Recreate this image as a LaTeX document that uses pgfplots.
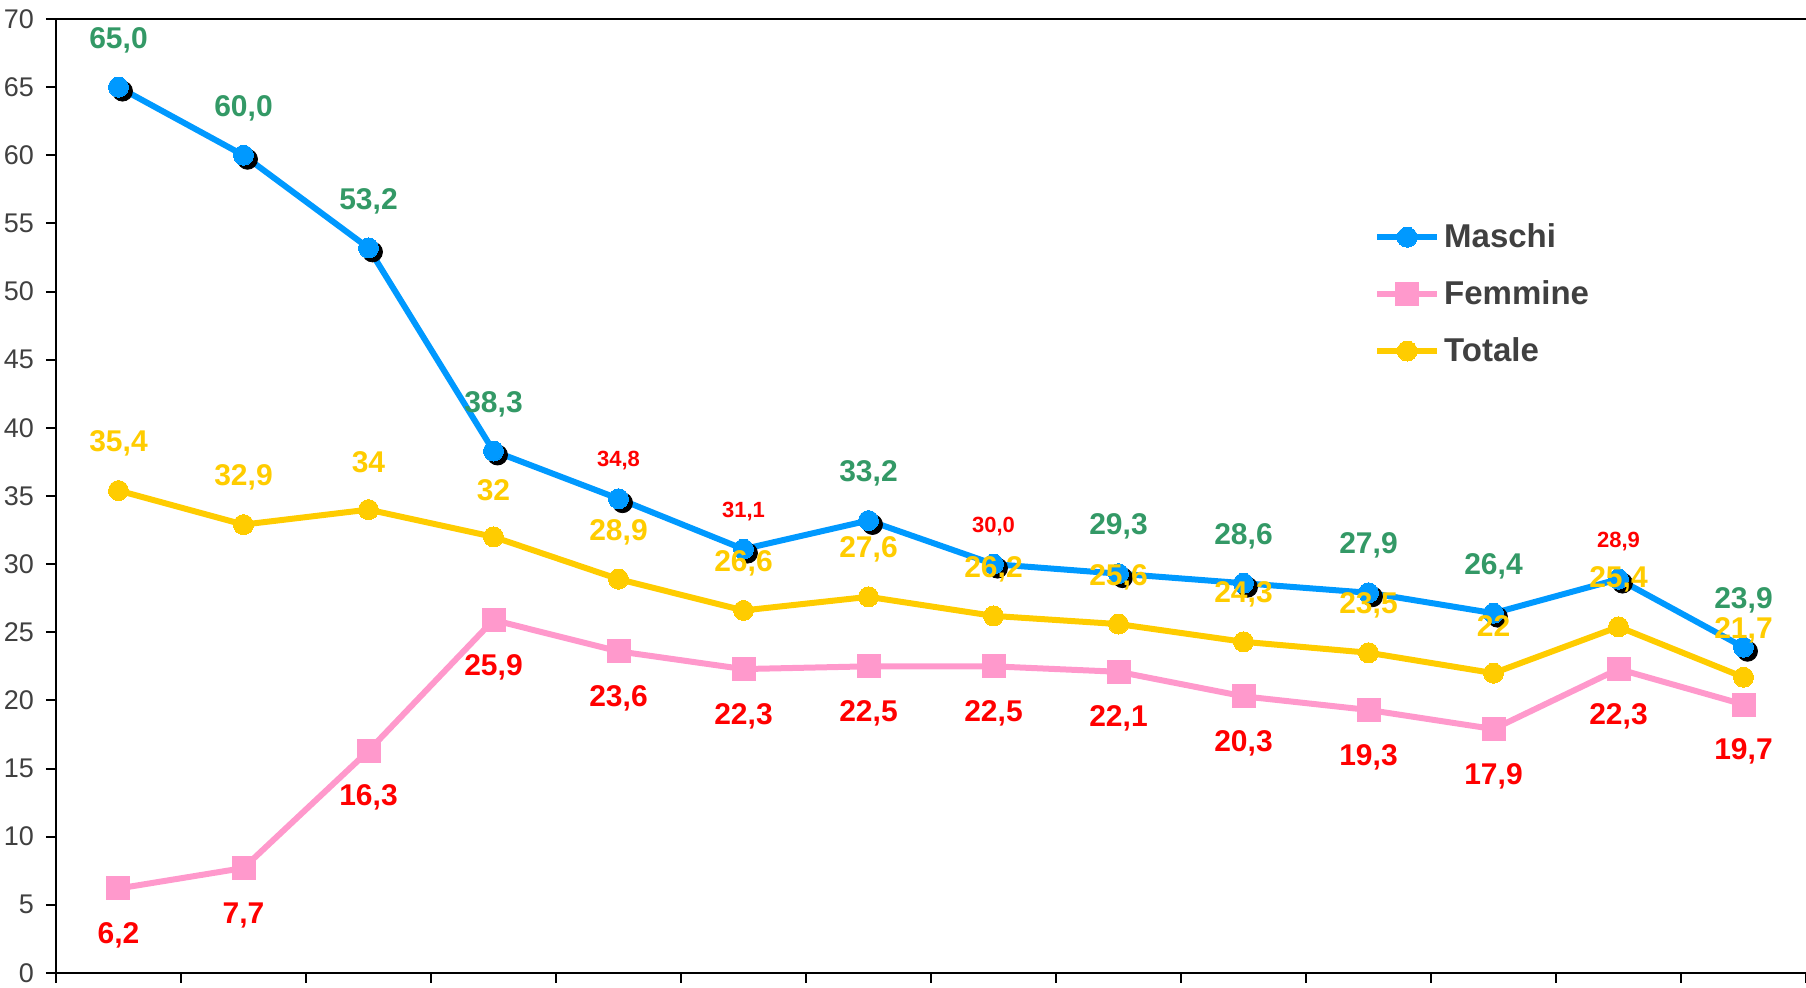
\documentclass[border=0pt]{standalone}
\usepackage{pgfplots}
\pgfplotsset{compat=1.18}
\usepackage{fontspec}
\setmainfont{Liberation Sans}
\definecolor{mblue}{RGB}{0,153,255}
\definecolor{fpink}{RGB}{255,153,204}
\definecolor{tyellow}{RGB}{255,204,0}
\definecolor{lgreen}{RGB}{51,153,102}
\definecolor{lred}{RGB}{255,0,0}
\definecolor{txtgray}{RGB}{64,64,64}
\begin{document}
\begin{tikzpicture}
\path[use as bounding box] (-28pt,-7.5pt) rectangle (875pt,486.5pt);
\begin{axis}[
  at={(0,0)}, anchor=south west,
  scale only axis,
  width=875pt, height=477pt,
  xmin=-0.5, xmax=13.5,
  ymin=0, ymax=70,
  axis x line=box, axis y line=left,
  axis line style={line width=1pt, -},
  xtick={-0.5,0.5,...,13.5}, xticklabels={},
  xtick pos=bottom,
  ytick={0,5,...,70},
  ytick pos=left,
  tick align=outside,
  major tick length=5pt,
  tick style={line width=1pt, black},
  yticklabel style={font=\fontsize{13.5}{15}\selectfont, text=txtgray, xshift=-2.5pt},
  /pgf/number format/assume math mode=true,
  clip=false,
  legend style={draw=none, fill=none, at={(0.753,0.79)}, anchor=north west,
    font=\fontsize{16.5}{20}\selectfont\bfseries, text=txtgray,
    row sep=11pt, inner sep=0pt},
  legend cell align=left,
  legend image code/.code={\draw[mark repeat=2,mark phase=2] plot coordinates {(0pt,0pt) (15pt,0pt) (30pt,0pt)};},
]
% shadow of Maschi markers
\addplot[forget plot, only marks, mark=*, mark size=5pt, black,
  mark options={xshift=2pt, yshift=-2pt}] table[x=x,y=m] {
x m
0 65.0
1 60.0
2 53.2
3 38.3
4 34.8
5 31.1
6 33.2
7 30.0
8 29.3
9 28.6
10 27.9
11 26.4
12 28.9
13 23.9
};
\addplot[mblue, line width=3pt, mark=*, mark size=5pt, mark options={fill=mblue, draw=mblue, line width=0pt}] table[x=x,y=m] {
x m
0 65.0
1 60.0
2 53.2
3 38.3
4 34.8
5 31.1
6 33.2
7 30.0
8 29.3
9 28.6
10 27.9
11 26.4
12 28.9
13 23.9
};
\addlegendentry{Maschi}
\addplot[fpink, line width=3pt, mark=square*, mark size=5.75pt, mark options={fill=fpink, draw=fpink, line width=0pt}] table[x=x,y=f] {
x f
0 6.2
1 7.7
2 16.3
3 25.9
4 23.6
5 22.3
6 22.5
7 22.5
8 22.1
9 20.3
10 19.3
11 17.9
12 22.3
13 19.7
};
\addlegendentry{Femmine}
\addplot[tyellow, line width=3pt, mark=*, mark size=5pt, mark options={fill=tyellow, draw=tyellow, line width=0pt}] table[x=x,y=t] {
x t
0 35.4
1 32.9
2 34
3 32
4 28.9
5 26.6
6 27.6
7 26.2
8 25.6
9 24.3
10 23.5
11 22
12 25.4
13 21.7
};
\addlegendentry{Totale}
% labels: Femmine (below)
\addplot[forget plot, draw=none, point meta=explicit symbolic, nodes near coords,
  nodes near coords style={anchor=center, yshift=-23.5pt, text=lred, font=\fontsize{15}{17}\selectfont\bfseries}]
  table[x=x,y=f,meta=l] {
x f l
0 6.2 6,2
1 7.7 7,7
2 16.3 16,3
3 25.9 25,9
4 23.6 23,6
5 22.3 22,3
6 22.5 22,5
7 22.5 22,5
8 22.1 22,1
9 20.3 20,3
10 19.3 19,3
11 17.9 17,9
12 22.3 22,3
13 19.7 19,7
};
% labels: Maschi green
\addplot[forget plot, draw=none, point meta=explicit symbolic, nodes near coords,
  nodes near coords style={anchor=center, yshift=23.5pt, text=lgreen, font=\fontsize{15}{17}\selectfont\bfseries}]
  table[x=x,y=m,meta=l] {
x m l
0 65.0 65,0
1 60.0 60,0
2 53.2 53,2
3 38.3 38,3
6 33.2 33,2
8 29.3 29,3
9 28.6 28,6
10 27.9 27,9
11 26.4 26,4
13 23.9 23,9
};
% labels: Maschi small red
\addplot[forget plot, draw=none, point meta=explicit symbolic, nodes near coords,
  nodes near coords style={anchor=center, yshift=19pt, text=lred, font=\fontsize{11}{12}\selectfont\bfseries}]
  table[x=x,y=m,meta=l] {
x m l
4 34.8 34,8
5 31.1 31,1
7 30.0 30,0
12 28.9 28,9
};
% labels: Totale
\addplot[forget plot, draw=none, point meta=explicit symbolic, nodes near coords,
  nodes near coords style={anchor=center, yshift=23.5pt, text=tyellow, font=\fontsize{15}{17}\selectfont\bfseries}]
  table[x=x,y=t,meta=l] {
x t l
0 35.4 35,4
1 32.9 32,9
2 34 34
3 32 32
4 28.9 28,9
5 26.6 26,6
6 27.6 27,6
7 26.2 26,2
8 25.6 25,6
9 24.3 24,3
10 23.5 23,5
11 22 22
12 25.4 25,4
13 21.7 21,7
};
\end{axis}
\end{tikzpicture}
\end{document}
